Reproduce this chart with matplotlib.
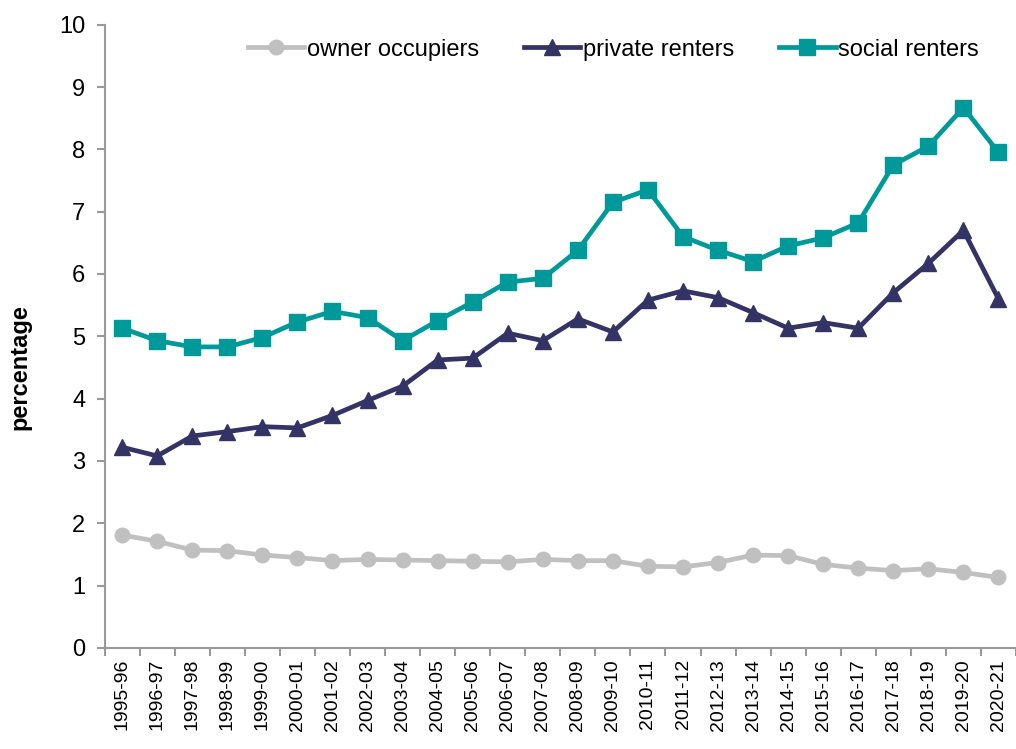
import matplotlib
matplotlib.use("Agg")
import matplotlib.pyplot as plt
import numpy as np

plt.rcParams["font.family"] = ["Liberation Sans", "DejaVu Sans"]

years = [
    "1995-96", "1996-97", "1997-98", "1998-99", "1999-00", "2000-01",
    "2001-02", "2002-03", "2003-04", "2004-05", "2005-06", "2006-07",
    "2007-08", "2008-09", "2009-10", "2010-11", "2011-12", "2012-13",
    "2013-14", "2014-15", "2015-16", "2016-17", "2017-18", "2018-19",
    "2019-20", "2020-21",
]

owner_occupiers = [
    1.81, 1.71, 1.57, 1.56, 1.49, 1.45, 1.40, 1.42, 1.41, 1.40, 1.39, 1.38,
    1.42, 1.40, 1.40, 1.31, 1.30, 1.37, 1.49, 1.48, 1.34, 1.28, 1.24, 1.27,
    1.21, 1.13,
]
private_renters = [
    3.22, 3.08, 3.40, 3.47, 3.55, 3.53, 3.73, 3.97, 4.20, 4.62, 4.65, 5.05,
    4.93, 5.28, 5.07, 5.58, 5.73, 5.62, 5.38, 5.13, 5.22, 5.13, 5.70, 6.17,
    6.70, 5.60,
]
social_renters = [
    5.13, 4.93, 4.83, 4.83, 4.98, 5.23, 5.40, 5.30, 4.93, 5.25, 5.55, 5.87,
    5.93, 6.38, 7.15, 7.35, 6.60, 6.38, 6.20, 6.45, 6.58, 6.82, 7.75, 8.05,
    8.67, 7.95,
]

fig = plt.figure(figsize=(10.16, 7.49), dpi=100)
ax = fig.add_axes([0.103, 0.135, 0.897, 0.832])

x = np.arange(len(years))
ax.plot(x, owner_occupiers, color="#c0c0c0", lw=3.4, marker="o", ms=10.5,
        label="owner occupiers", solid_joinstyle="round")
ax.plot(x, private_renters, color="#333366", lw=3.4, marker="^", ms=12,
        label="private renters", solid_joinstyle="round")
ax.plot(x, social_renters, color="#009999", lw=3.4, marker="s", ms=11,
        label="social renters", solid_joinstyle="round")

ax.set_xlim(-0.5, len(years) - 0.5)
ax.set_ylim(0, 10)
ax.set_yticks(range(0, 11))

# labels at category centres, tick marks between categories
ax.set_xticks(x)
ax.set_xticklabels(years, rotation=90, fontsize=14)
ax.set_xticks(np.arange(-0.5, len(years)), minor=True)
ax.tick_params(axis="x", which="major", length=0, pad=8)
ax.tick_params(axis="x", which="minor", length=6, width=1.5, color="#999999", direction="out")
ax.tick_params(axis="y", length=6, width=1.5, color="#999999", labelsize=17, pad=8)

for s in ["top", "right"]:
    ax.spines[s].set_visible(False)
for s in ["left", "bottom"]:
    ax.spines[s].set_color("#999999")
    ax.spines[s].set_linewidth(1.5)

fig.text(0.02, 0.51, "percentage", rotation=90, fontsize=17, fontweight="bold",
         ha="center", va="center")

ax.legend(loc="center", bbox_to_anchor=(0.558, 0.96), ncol=3, frameon=False,
          fontsize=17, handlelength=2.4, handletextpad=0.1, columnspacing=1.9)

fig.savefig("out.png", dpi=100)
